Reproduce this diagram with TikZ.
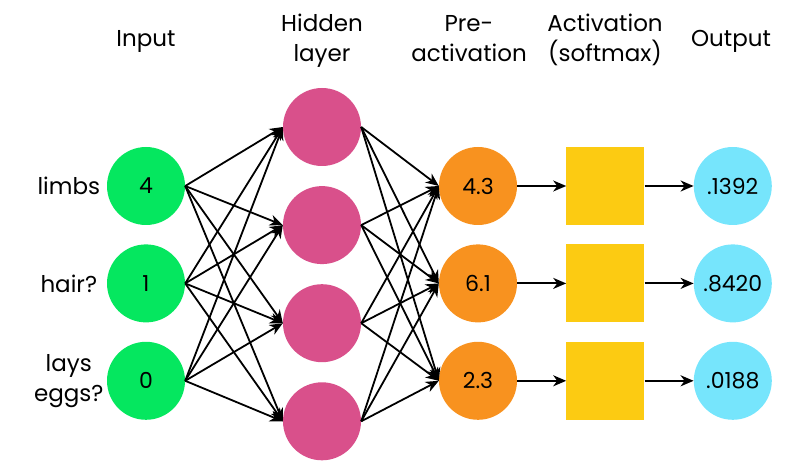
\documentclass[tikz,border=0pt]{standalone}
\usepackage{fontspec}
\setmainfont{Poppins}
\usetikzlibrary{positioning, arrows.meta}

\definecolor{inputgreen}{HTML}{05E75F}
\definecolor{hiddenpink}{HTML}{D9508B}
\definecolor{preorange}{HTML}{F8921F}
\definecolor{softyellow}{HTML}{FCCB12}
\definecolor{outcyan}{HTML}{76E5FC}

\begin{document}
\begin{tikzpicture}[
    x=1pt, y=-1pt,
    node distance=19pt and 49pt, % default vertical and horizontal node distance
    neuron/.style={circle, minimum size=78pt, inner sep=0pt, font=\fontsize{22}{26}\selectfont},
    softbox/.style={rectangle, fill=softyellow, minimum size=78pt, inner sep=0pt},
    labelstyle/.style={align=center, font=\fontsize{23}{30}\selectfont},
    conn/.style={line width=1.8pt, -{Stealth[length=13pt, width=11pt, inset=4pt]}}
]
\useasboundingbox (0,0) rectangle (796,473);

% Input layer
\node (in1) [neuron, fill=inputgreen] at (146,186) {4};
\node (in2) [neuron, fill=inputgreen, below=of in1] {1};
\node (in3) [neuron, fill=inputgreen, below=of in2] {0};

% Feature names
\node (lbl1) [labelstyle, left=38pt of in1.west, anchor=center] {limbs};
\node (lbl2) [labelstyle, left=38pt of in2.west, anchor=center] {hair?};
\node (lbl3) [labelstyle, left=38pt of in3.west, anchor=center] {lays\\eggs?};

% Hidden layer
\node (hid1) [neuron, fill=hiddenpink] at (322,127) {};
\node (hid2) [neuron, fill=hiddenpink, below=19.7pt of hid1] {};
\node (hid3) [neuron, fill=hiddenpink, below=19.7pt of hid2] {};
\node (hid4) [neuron, fill=hiddenpink, below=19.7pt of hid3] {};

% Pre-activation
\node (pre1) [neuron, fill=preorange] at (478,186) {4.3};
\node (pre2) [neuron, fill=preorange, below=of pre1] {6.1};
\node (pre3) [neuron, fill=preorange, below=of pre2] {2.3};

% Softmax boxes
\node (sm1) [softbox, right=of pre1] {};
\node (sm2) [softbox, right=of pre2] {};
\node (sm3) [softbox, right=of pre3] {};

% Output
\node (out1) [neuron, fill=outcyan, right=of sm1] {.1392};
\node (out2) [neuron, fill=outcyan, right=of sm2] {.8420};
\node (out3) [neuron, fill=outcyan, right=of sm3] {.0188};

% Column headers (base = last line)
\node (head_in) [labelstyle, anchor=base] at (146,47) {Input};
\node (head_hid) [labelstyle, anchor=base] at (322,62) {Hidden\\layer};
\node (head_pre) [labelstyle, anchor=base] at (469,62) {Pre-\\activation};
\node (head_sm) [labelstyle, anchor=base] at (605,62) {Activation\\(softmax)};
\node (head_out) [labelstyle, anchor=base] at (731,47) {Output};

% Fully connected edges
\foreach \i in {1,2,3}
    \foreach \j in {1,...,4}
        \draw[conn] (in\i.east) -- (hid\j.west);
\foreach \j in {1,...,4}
    \foreach \k in {1,2,3}
        \draw[conn] (hid\j.east) -- (pre\k.west);

% Straight-through arrows
\foreach \k in {1,2,3} {
    \draw[conn] (pre\k) -- (sm\k);
    \draw[conn] (sm\k) -- (out\k);
}

\end{tikzpicture}
\end{document}
